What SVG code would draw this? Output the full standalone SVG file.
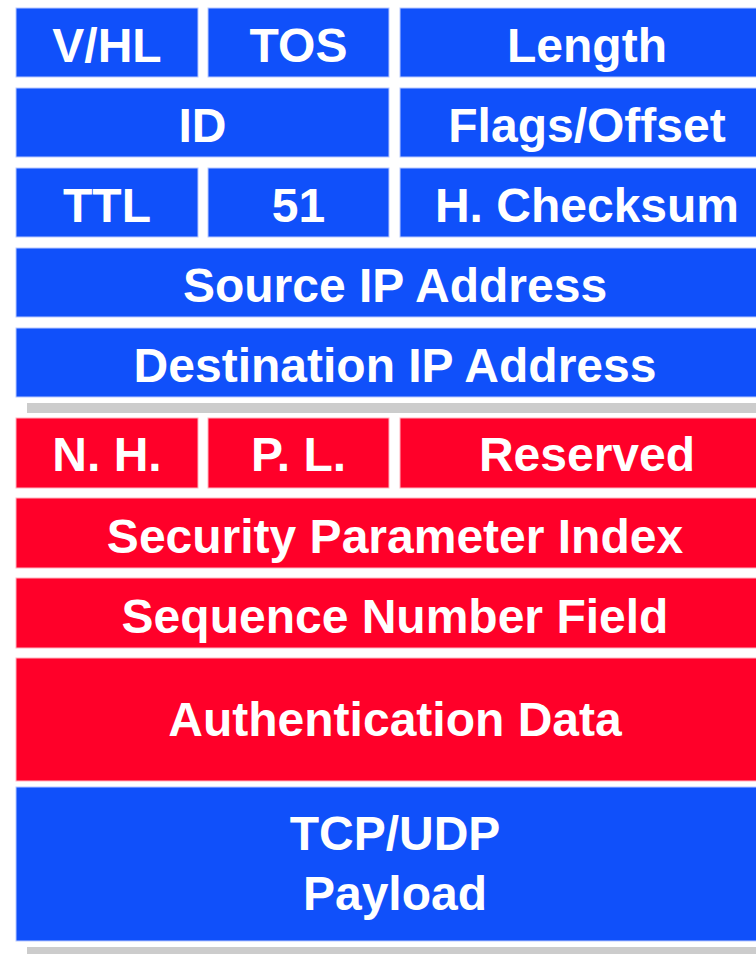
<svg xmlns="http://www.w3.org/2000/svg" width="756" height="954" viewBox="0 0 756 954">
<style>
.b{fill:#1050FA;stroke:#b9c9ff;stroke-width:1}
.r{fill:#FF0029;stroke:#ffb3c0;stroke-width:1}
.g{fill:#CCCCCC}
text{font-family:"Liberation Sans",Arial,sans-serif;font-weight:bold;font-size:48px;fill:#FFFFFF;text-anchor:middle}
</style>
<rect width="756" height="954" fill="#FFFFFF"/>
<g id="vhl"><rect class="b" x="16" y="8" width="182" height="69"/><text x="107" y="62">V/HL</text></g>
<g id="tos"><rect class="b" x="208" y="8" width="181" height="69"/><text x="298.5" y="62">TOS</text></g>
<g id="length"><rect class="b" x="400" y="8" width="374" height="69"/><text x="587" y="62">Length</text></g>
<g id="id"><rect class="b" x="16" y="88" width="373" height="69"/><text x="202.5" y="142">ID</text></g>
<g id="flags"><rect class="b" x="400" y="88" width="374" height="69"/><text x="587" y="142">Flags/Offset</text></g>
<g id="ttl"><rect class="b" x="16" y="168" width="182" height="69"/><text x="107" y="222">TTL</text></g>
<g id="proto"><rect class="b" x="208" y="168" width="181" height="69"/><text x="298.5" y="222">51</text></g>
<g id="hchk"><rect class="b" x="400" y="168" width="374" height="69"/><text x="587" y="222">H. Checksum</text></g>
<g id="src"><rect class="b" x="16" y="248" width="758" height="69"/><text x="395" y="302">Source IP Address</text></g>
<g id="dst"><rect class="b" x="16" y="328" width="758" height="69"/><text x="395" y="382">Destination IP Address</text></g>
<g id="sep1"><rect class="g" x="27" y="403" width="740" height="10"/></g>
<g id="nh"><rect class="r" x="16" y="418" width="182" height="70"/><text x="107" y="471">N. H.</text></g>
<g id="pl"><rect class="r" x="208" y="418" width="181" height="70"/><text x="298.5" y="471">P. L.</text></g>
<g id="reserved"><rect class="r" x="400" y="418" width="374" height="70"/><text x="587" y="471">Reserved</text></g>
<g id="spi"><rect class="r" x="16" y="498" width="758" height="70"/><text x="395" y="553">Security Parameter Index</text></g>
<g id="seq"><rect class="r" x="16" y="578" width="758" height="70"/><text x="395" y="633">Sequence Number Field</text></g>
<g id="auth"><rect class="r" x="16" y="658" width="758" height="123"/><text x="395" y="736">Authentication Data</text></g>
<g id="payload"><rect class="b" x="16" y="787" width="758" height="154"/><text x="395" y="850">TCP/UDP</text><text x="395" y="910">Payload</text></g>
<g id="sep2"><rect class="g" x="27" y="947" width="740" height="10"/></g>
<g id="connectors"></g>
</svg>
